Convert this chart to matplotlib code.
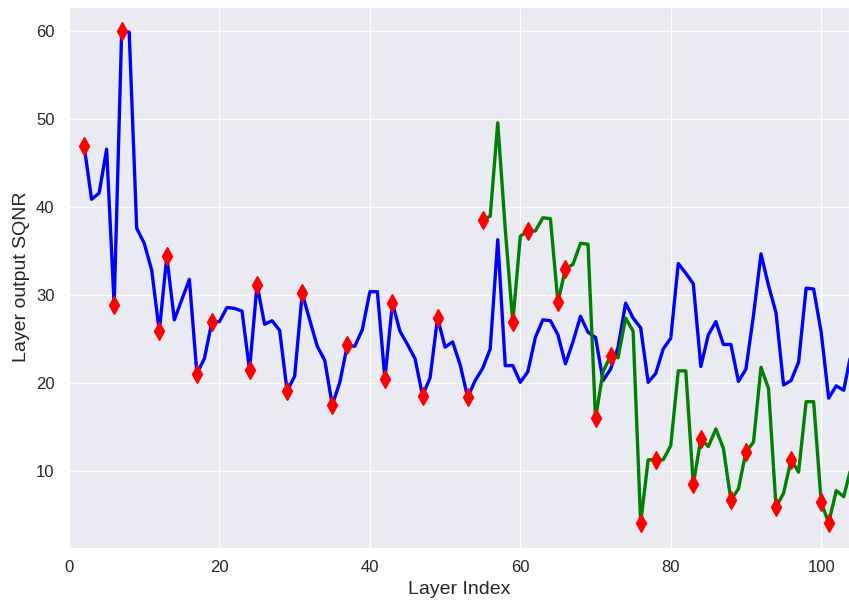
import numpy as np
import matplotlib
matplotlib.use("Agg")
import matplotlib.pyplot as plt
import seaborn as sns

# per-layer SQNR
layers_a = list(range(2, 105))
sqnr_a = [47.0, 40.9, 41.6, 46.6, 28.9, 60.0, 59.9, 37.6, 35.9, 32.8,
          25.9, 34.4, 27.2, 29.5, 31.8, 21.1, 22.8, 27.0, 27.0, 28.6,
          28.5, 28.2, 21.5, 31.2, 26.7, 27.1, 26.0, 19.1, 20.8, 30.2,
          27.2, 24.2, 22.6, 17.5, 20.1, 24.3, 24.2, 26.1, 30.4, 30.4,
          20.5, 29.1, 25.9, 24.4, 22.8, 18.6, 20.6, 27.4, 24.1, 24.7,
          22.1, 18.4, 20.3, 21.7, 23.9, 36.3, 22.0, 22.0, 20.1, 21.3,
          25.2, 27.2, 27.1, 25.5, 22.2, 24.7, 27.6, 25.8, 25.2, 20.3,
          21.6, 24.1, 29.1, 27.4, 26.3, 20.1, 21.1, 23.9, 25.1, 33.6,
          32.5, 31.3, 21.9, 25.5, 27.0, 24.4, 24.4, 20.2, 21.6, 27.7,
          34.7, 31.1, 28.0, 19.8, 20.3, 22.4, 30.8, 30.7, 25.8, 18.3,
          19.7, 19.2, 23.5]

layers_b = list(range(55, 105))
sqnr_b = [38.5, 39.0, 49.6, 37.5, 26.9, 36.7, 37.3, 37.3, 38.8, 38.7,
          29.2, 33.0, 33.5, 35.9, 35.8, 16.0, 21.3, 23.1, 22.9, 27.4,
          25.9, 4.1, 11.3, 11.3, 11.3, 12.9, 21.4, 21.4, 8.5, 13.7,
          12.8, 14.8, 12.6, 6.7, 8.0, 12.2, 13.3, 21.8, 19.4, 5.9,
          7.5, 11.3, 9.9, 17.9, 17.9, 6.5, 4.1, 7.8, 7.1, 10.5]

# layers marked with red diamonds
marked_a = [2, 6, 7, 12, 13, 17, 19, 24, 25, 29, 31, 35, 37, 42, 43, 47, 49, 53]
marked_b = [55, 59, 61, 65, 66, 70, 72, 76, 78, 83, 84, 88, 90, 94, 96, 100, 101]

sns.set_style("darkgrid")
plt.rcParams['font.family'] = ['Liberation Sans', 'DejaVu Sans']

fig, ax = plt.subplots(figsize=(8.49, 6.03), dpi=100)
fig.subplots_adjust(left=0.0813, right=1.0, bottom=0.0917, top=0.989)

ax.plot(layers_a, sqnr_a, color='blue', linewidth=2.4)
ax.plot(layers_b, sqnr_b, color='green', linewidth=2.4)

mx = marked_a + marked_b
my = [sqnr_a[layers_a.index(i)] for i in marked_a] + [sqnr_b[layers_b.index(i)] for i in marked_b]
ax.plot(mx, my, 'd', color='red', markersize=9, linestyle='none')

ax.set_xlim(0, 103.7)
ax.set_xlabel('Layer Index', fontsize=14, color='#262626')
ax.set_ylabel('Layer output SQNR', fontsize=14, color='#262626')
ax.tick_params(labelsize=12, colors='#262626')
ax.tick_params(axis='x', pad=5.5)
ax.tick_params(axis='y', pad=7)

plt.savefig('out.png', dpi=100)
